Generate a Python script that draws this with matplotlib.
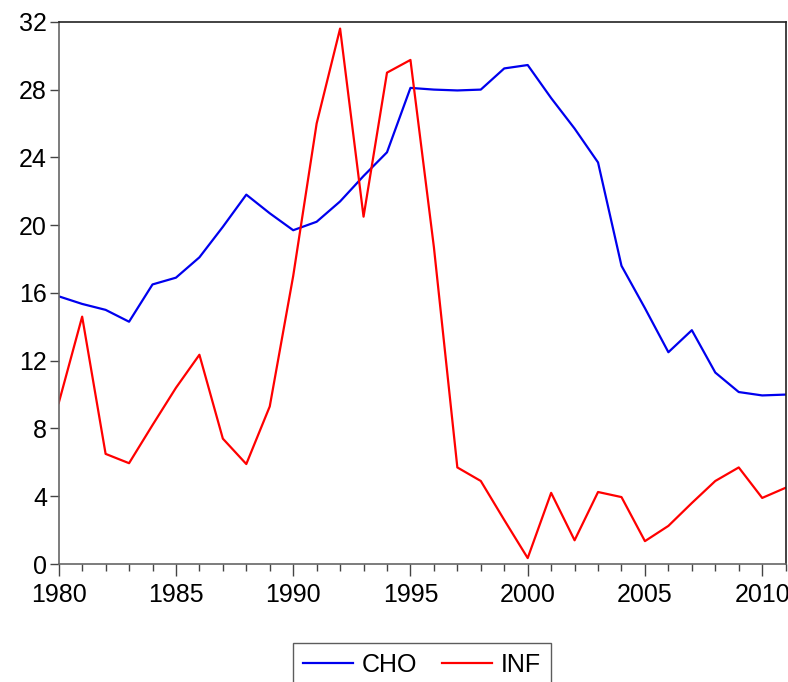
import numpy as np
import matplotlib
matplotlib.use('Agg')
import matplotlib.pyplot as plt
from matplotlib.ticker import MultipleLocator

# values
years = list(range(1980, 2012))
cho = [15.8, 15.35, 15.0, 14.3, 16.5, 16.9, 18.1, 19.9, 21.8, 20.7,
       19.7, 20.2, 21.4, 22.9, 24.3, 28.1, 28.0, 27.95, 28.0, 29.25,
       29.45, 27.5, 25.7, 23.7, 17.6, 15.1, 12.5, 13.8, 11.3, 10.15,
       9.95, 10.0]
inf = [9.5, 14.6, 6.5, 5.95, 8.2, 10.4, 12.35, 7.4, 5.9, 9.3,
       17.0, 26.0, 31.6, 20.5, 29.0, 29.75, 18.7, 5.7, 4.9, 2.6,
       0.35, 4.2, 1.4, 4.25, 3.95, 1.35, 2.25, 3.6, 4.9, 5.7,
       3.9, 4.5]
yticks = [0, 4, 8, 12, 16, 20, 24, 28, 32]
xticks = [1980, 1985, 1990, 1995, 2000, 2005, 2010]

plt.rcParams['font.family'] = ['Liberation Sans', 'DejaVu Sans']

fig = plt.figure(figsize=(7.88, 6.82), dpi=100)
ax = fig.add_axes([0.0745, 0.173, 0.9225, 0.795])

l1, = ax.plot(years, cho, color='#0000ee', linewidth=1.6, label='CHO')
l2, = ax.plot(years, inf, color='#ff0000', linewidth=1.6, label='INF')

ax.set_xlim(1980, 2011)
ax.set_ylim(0, 32)
ax.set_yticks(yticks)
ax.set_xticks(xticks)
ax.xaxis.set_minor_locator(MultipleLocator(1))
ax.tick_params(axis='both', direction='out', labelsize=18, color='#444444')
ax.tick_params(axis='x', which='major', length=8.5, width=1, pad=5)
ax.tick_params(axis='x', which='minor', length=5, width=1, color='#444444')
ax.tick_params(axis='y', which='major', length=6.5, width=1, pad=2)
ax.tick_params(top=False, right=False)

for s in ['left', 'bottom']:
    ax.spines[s].set_color('#666666')
    ax.spines[s].set_linewidth(1.2)
for s in ['top', 'right']:
    ax.spines[s].set_color('#222222')
    ax.spines[s].set_linewidth(1.2)

leg = fig.legend(handles=[l1, l2], loc='upper center', bbox_to_anchor=(0.535, 0.057),
                 ncol=2, fontsize=18, frameon=True, fancybox=False,
                 handlelength=2.0, handletextpad=0.35, columnspacing=1.0,
                 borderpad=0.4, borderaxespad=0.0)
leg.get_frame().set_edgecolor('#333333')
leg.get_frame().set_linewidth(1.0)

fig.savefig('out.png', dpi=100)
